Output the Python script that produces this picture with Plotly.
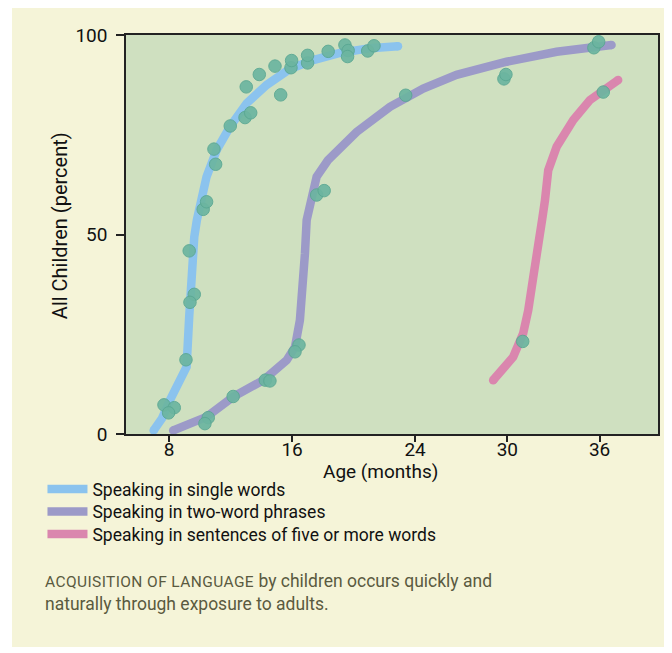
import plotly.graph_objects as go

# ---- data (age in months, percent of children) ----
single_age = [7.0, 7.54, 8.06, 8.58, 9.14, 9.31, 9.47, 9.64, 9.81, 9.96, 10.44, 11.10, 11.96, 13.05, 14.35, 15.86, 17.38, 19.11, 21.07, 22.89]
single_pct = [0.9, 3.9, 8.5, 12.5, 16.8, 29.3, 41.1, 49.4, 53.6, 56.9, 64.5, 71.2, 77.0, 82.9, 87.5, 91.5, 93.7, 95.5, 96.7, 97.2]

two_age = [8.27, 10.44, 12.17, 14.13, 15.65, 16.19, 16.51, 16.73, 16.84, 16.95, 17.27, 17.60, 18.33, 19.11, 20.20, 22.37, 24.53, 26.70, 29.96, 33.21, 36.78]
two_pct = [0.9, 4.3, 9.3, 13.5, 18.5, 21.8, 28.5, 36.9, 45.3, 53.6, 58.6, 64.5, 68.6, 71.6, 75.7, 82.0, 86.6, 90.0, 93.3, 95.8, 97.5]

five_age = [29.08, 29.71, 30.38, 31.03, 31.36, 31.69, 32.01, 32.28, 32.45, 32.66, 33.21, 34.29, 35.37, 36.24, 37.21]
five_pct = [13.5, 16.0, 19.3, 25.2, 31.0, 39.4, 46.1, 54.1, 58.6, 66.1, 72.0, 78.7, 83.7, 86.2, 88.7]

obs_age = [10.22, 10.44, 11.03, 10.92, 11.98, 12.94, 13.31, 13.02, 13.87, 15.26, 14.89, 15.93, 15.97, 17.01, 17.01,
           18.35, 19.44, 19.65, 19.61, 20.92, 21.33, 9.31, 9.64, 9.36, 9.10, 7.67, 8.34, 7.97, 10.55, 10.33, 12.17,
           14.26, 14.56, 16.45, 16.19, 17.60, 18.09, 23.39, 29.78, 29.91, 35.63, 35.94, 36.24, 31.00]
obs_pct = [56.3, 58.2, 67.6, 71.4, 77.2, 79.3, 80.5, 87.0, 90.1, 85.0, 92.2, 91.8, 93.6, 93.0, 94.9,
           95.9, 97.5, 96.1, 94.6, 96.0, 97.3, 45.9, 35.0, 33.0, 18.6, 7.3, 6.6, 5.3, 4.1, 2.6, 9.4,
           13.5, 13.3, 22.3, 20.6, 59.9, 61.0, 84.9, 89.0, 90.1, 96.8, 98.3, 85.7, 23.2]

x_ticks = [8, 16, 24, 30, 36]
y_ticks = [0, 50, 100]
series_names = ["Speaking in single words", "Speaking in two-word phrases",
                "Speaking in sentences of five or more words"]

colors = ["#8BC3EE", "#9C9AC8", "#DA86AE"]
LW = 8.5
FONT = "Roboto"

W, H = 664, 645            # page body has an 8px margin; this fills the 672x653 window
L, T, R, B = 118, 27, 14, 219
PW, PH = W - L - R, H - T - B

legend_ids = ["legend", "legend2", "legend3"]
legend_tops = [-0.0930, -0.1494, -0.2058]

fig = go.Figure()
series = [(single_age, single_pct), (two_age, two_pct), (five_age, five_pct)]
for (xs, ys), name, c, lid in zip(series, series_names, colors, legend_ids):
    fig.add_trace(go.Scatter(x=xs, y=ys, mode="lines", name=name, legend=lid,
                             line=dict(color=c, width=LW), hoverinfo="skip"))
for (xs, ys), c in zip(series, colors):
    fig.add_trace(go.Scatter(x=[xs[0], xs[-1]], y=[ys[0], ys[-1]], mode="markers",
                             marker=dict(color=c, size=LW, line=dict(width=0)),
                             showlegend=False, hoverinfo="skip"))

fig.add_trace(go.Scatter(x=obs_age, y=obs_pct, mode="markers", showlegend=False,
                         marker=dict(color="#6CB5A0", size=12.5, opacity=0.92,
                                     line=dict(color="#5AA893", width=1))))

legend_style = dict(x=-0.157, xanchor="left", yanchor="top", bgcolor="rgba(0,0,0,0)",
                    font=dict(size=17.5, family=FONT, color="#111"), itemwidth=40)

fig.update_layout(
    width=W, height=H,
    margin=dict(l=L, r=R, t=T, b=B),
    paper_bgcolor="#F5F4D8",
    plot_bgcolor="#CFE0C0",
    font=dict(family=FONT, color="#111111"),
    xaxis=dict(range=[5.2, 39.8], tickvals=x_ticks, ticktext=[str(v) for v in x_ticks],
               showgrid=False, zeroline=False, ticks="outside", ticklen=6, tickwidth=1.5,
               tickcolor="#222", showline=True, linecolor="#222", linewidth=1.5, mirror=True,
               ticklabelstandoff=-9,
               tickfont=dict(size=19, family=FONT, color="#111")),
    yaxis=dict(range=[0, 100], tickvals=y_ticks, ticktext=[str(v) for v in y_ticks],
               showgrid=False, zeroline=False, ticks="outside", ticklen=8, tickwidth=1.5,
               tickcolor="#222", showline=True, linecolor="#222", linewidth=1.5, mirror=True,
               ticklabelstandoff=5,
               tickfont=dict(size=19, family=FONT, color="#111")),
    showlegend=True,
)
for lid, top in zip(legend_ids, legend_tops):
    fig.update_layout({lid: dict(legend_style, y=top)})

fig.add_annotation(text="Age (months)", xref="paper", yref="paper", x=0.479, y=-0.093,
                   xanchor="center", yanchor="middle", showarrow=False,
                   font=dict(size=19, family=FONT, color="#111"))
fig.add_annotation(text="All Children (percent)", xref="paper", yref="paper", x=-0.124, y=0.521,
                   xanchor="center", yanchor="middle", showarrow=False, textangle=-90,
                   font=dict(size=20, family=FONT, color="#111"))
fig.add_annotation(text="<span style='font-size:15.5px;letter-spacing:0.4px'>ACQUISITION OF LANGUAGE</span> by children occurs quickly and<br>naturally through exposure to adults.",
                   xref="paper", yref="paper", x=(43 - 8 - L) / PW, y=1 - (569 - 8 - T) / PH,
                   xanchor="left", yanchor="top", align="left", showarrow=False,
                   font=dict(size=17.5, family=FONT, color="#5A5A40"))

# white strips outside the cream panel (left edge, bottom edge)
for x0, x1, y0, y1 in [(-0.5, (4 - L) / PW, -1, 2),
                       (-0.5, 1.5, -1, 1 - (639 - T) / PH)]:
    fig.add_shape(type="rect", xref="paper", yref="paper", x0=x0, x1=x1, y0=y0, y1=y1,
                  fillcolor="white", line=dict(width=0), layer="below")

fig.write_html("out.html")
